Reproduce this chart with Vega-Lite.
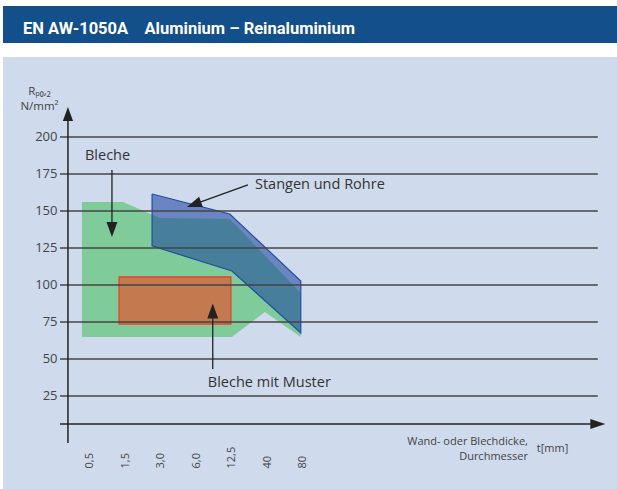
{
  "$schema": "https://vega.github.io/schema/vega-lite/v6.json",
  "background": "white",
  "padding": {"left": 3, "top": 6, "right": 0, "bottom": 0},
  "spacing": 14,
  "config": {"view": {"stroke": null}, "font": "Open Sans"},
  "datasets": {
    "one": [{}],
    "green": [
      {"ord": 0, "x": -0.225, "y": 156.1},
      {"ord": 1, "x": 0.93, "y": 156.1},
      {"ord": 2, "x": 1.97, "y": 145.3},
      {"ord": 3, "x": 3.94, "y": 144.6},
      {"ord": 4, "x": 5.94, "y": 94.6},
      {"ord": 5, "x": 5.94, "y": 64.9},
      {"ord": 6, "x": 4.93, "y": 81.8},
      {"ord": 7, "x": 4.0, "y": 64.9},
      {"ord": 8, "x": -0.225, "y": 64.9}
    ],
    "blue": [
      {"ord": 0, "x": 1.75, "y": 161.5},
      {"ord": 1, "x": 3.94, "y": 148.0},
      {"ord": 2, "x": 5.94, "y": 102.7},
      {"ord": 3, "x": 5.94, "y": 67.6},
      {"ord": 4, "x": 4.0, "y": 109.5},
      {"ord": 5, "x": 1.75, "y": 126.4},
      {"ord": 6, "x": 1.75, "y": 161.5}
    ],
    "muster": [{"x": 0.82, "x2": 3.97, "y": 105.4, "y2": 73.6}],
    "grid": [{"y": 25}, {"y": 50}, {"y": 75}, {"y": 100}, {"y": 125}, {"y": 150}, {"y": 175}, {"y": 200}],
    "arrows": [
      {"x": 0.62, "y": 177.7, "x2": 0.62, "y2": 142.5},
      {"x": 3.46, "y": 43.2, "x2": 3.46, "y2": 78.5},
      {"x": 4.45, "y": 167.6, "x2": 2.93, "y2": 154.4}
    ],
    "labels": [
      {"x": -0.14, "y": 187.2, "text": "Bleche"},
      {"x": 4.65, "y": 167.6, "text": "Stangen und Rohre"},
      {"x": 3.32, "y": 33.8, "text": "Bleche mit Muster"}
    ],
    "xtitle": [
      {"x": 12.34, "y": -6.1, "text": "Wand- oder Blechdicke,"},
      {"x": 12.34, "y": -16.2, "text": "Durchmesser"}
    ],
    "tunit": [{"x": 12.59, "y": -10.8, "text": "t[mm]"}]
  },
  "vconcat": [
    {
      "width": 614,
      "height": 37,
      "view": {"fill": "#134f8a", "stroke": null},
      "data": {"name": "one"},
      "mark": {"type": "text", "text": ""},
      "title": {
        "text": "EN AW-1050A\u00a0\u00a0\u00a0\u00a0Aluminium – Reinaluminium",
        "anchor": "start",
        "orient": "top",
        "frame": "group",
        "offset": -44,
        "dx": 20,
        "baseline": "alphabetic",
        "color": "white",
        "font": "Roboto",
        "fontWeight": "bold",
        "fontSize": 16.5
      }
    },
    {
      "width": 614,
      "height": 432,
      "view": {"fill": "#cfdaec", "stroke": null},
      "layer": [
        {
          "data": {"name": "green"},
          "mark": {"type": "line", "filled": true, "color": "#7fcb99", "strokeWidth": 0},
          "encoding": {
            "x": {
              "field": "x", "type": "quantitative",
              "scale": {"domain": [-2.45, 14.85], "nice": false, "zero": false},
              "axis": {
                "values": [0, 1, 2, 3, 4, 5, 6],
                "labelExpr": "['0,5','1,5','3,0','6,0','12,5','40','80'][datum.value]",
                "offset": -21,
                "domain": false,
                "ticks": false,
                "tickSize": 0,
                "grid": false,
                "labelAngle": 270,
                "labelAlign": "left",
                "labelBaseline": "middle",
                "labelPadding": 0,
                "labelFont": "Open Sans",
                "labelFontSize": 11,
                "labelColor": "#444",
                "labelFlush": false,
                "labelOverlap": false,
                "title": null,
                "zindex": 1
              }
            },
            "y": {
              "field": "y", "type": "quantitative",
              "scale": {"domain": [-37.84, 254.05], "nice": false, "zero": false},
              "axis": {
                "values": [25, 50, 75, 100, 125, 150, 175, 200],
                "offset": -65,
                "domain": false,
                "grid": false,
                "ticks": false,
                "labelPadding": 11,
                "labelFont": "Open Sans",
                "labelFontSize": 13,
                "labelColor": "#444",
                "title": ["Rₚ₀,₂", "N/mm²"],
                "titleAngle": 0,
                "titleAlign": "center",
                "titleBaseline": "alphabetic",
                "titleX": -29,
                "titleY": 37,
                "titleFont": "Open Sans",
                "titleFontSize": 11.5,
                "titleFontWeight": "normal",
                "titleColor": "#444",
                "titleLineHeight": 15,
                "zindex": 1
              }
            },
            "order": {"field": "ord", "type": "quantitative"}
          }
        },
        {
          "data": {"name": "muster"},
          "mark": {"type": "rect", "color": "#c47a4e", "stroke": "#e8402a", "strokeWidth": 1.3},
          "encoding": {
            "x": {"field": "x", "type": "quantitative"},
            "x2": {"field": "x2"},
            "y": {"field": "y", "type": "quantitative"},
            "y2": {"field": "y2"}
          }
        },
        {
          "data": {"name": "blue"},
          "mark": {"type": "line", "filled": true, "color": "#1a429e", "fillOpacity": 0.56, "stroke": "#1f4f9f", "strokeWidth": 1.2, "strokeOpacity": 1},
          "encoding": {
            "x": {"field": "x", "type": "quantitative"},
            "y": {"field": "y", "type": "quantitative"},
            "order": {"field": "ord", "type": "quantitative"}
          }
        },
        {
          "data": {"name": "grid"},
          "mark": {"type": "rule", "color": "#444", "strokeWidth": 1.3},
          "encoding": {
            "y": {"field": "y", "type": "quantitative"},
            "x": {"datum": -0.845},
            "x2": {"datum": 14.31}
          }
        },
        {
          "data": {"name": "one"},
          "mark": {"type": "rule", "color": "#222", "strokeWidth": 1.5},
          "encoding": {
            "x": {"datum": -0.62},
            "y": {"datum": -6.76},
            "y2": {"datum": 212.8}
          }
        },
        {
          "data": {"name": "one"},
          "mark": {"type": "rule", "color": "#222", "strokeWidth": 1.5},
          "encoding": {
            "y": {"datum": 6.08},
            "x": {"datum": -0.845},
            "x2": {"datum": 14.23}
          }
        },
        {
          "data": {"name": "one"},
          "mark": {"type": "point", "filled": true, "color": "#222", "opacity": 1, "size": 196, "shape": "M0,-1L0.73,1L-0.73,1Z", "strokeWidth": 0},
          "encoding": {
            "x": {"datum": -0.62},
            "y": {"datum": 215.5}
          }
        },
        {
          "data": {"name": "one"},
          "mark": {"type": "point", "filled": true, "color": "#222", "opacity": 1, "size": 225, "shape": "M1,0L-1,-0.67L-1,0.67Z", "strokeWidth": 0},
          "encoding": {
            "x": {"datum": 14.31},
            "y": {"datum": 6.08}
          }
        },
        {
          "data": {"name": "arrows"},
          "mark": {"type": "rule", "color": "#222", "strokeWidth": 1.3},
          "encoding": {
            "x": {"field": "x", "type": "quantitative"},
            "y": {"field": "y", "type": "quantitative"},
            "x2": {"field": "x2"},
            "y2": {"field": "y2"}
          }
        },
        {
          "data": {"name": "one"},
          "mark": {"type": "point", "filled": true, "color": "#222", "opacity": 1, "size": 225, "shape": "M0,1L0.73,-1L-0.73,-1Z", "strokeWidth": 0},
          "encoding": {
            "x": {"datum": 0.62},
            "y": {"datum": 137.5}
          }
        },
        {
          "data": {"name": "one"},
          "mark": {"type": "point", "filled": true, "color": "#222", "opacity": 1, "size": 225, "shape": "M0,-1L0.73,1L-0.73,1Z", "strokeWidth": 0},
          "encoding": {
            "x": {"datum": 3.46},
            "y": {"datum": 82.4}
          }
        },
        {
          "data": {"name": "one"},
          "mark": {"type": "point", "filled": true, "color": "#222", "opacity": 1, "size": 225, "shape": "M0,-1L0.73,1L-0.73,1Z", "angle": 250, "strokeWidth": 0},
          "encoding": {
            "x": {"datum": 2.93},
            "y": {"datum": 154.4}
          }
        },
        {
          "data": {"name": "labels"},
          "mark": {"type": "text", "align": "left", "baseline": "middle", "font": "Open Sans", "fontSize": 14.5, "color": "#333"},
          "encoding": {
            "x": {"field": "x", "type": "quantitative"},
            "y": {"field": "y", "type": "quantitative"},
            "text": {"field": "text"}
          }
        },
        {
          "data": {"name": "xtitle"},
          "mark": {"type": "text", "align": "right", "baseline": "middle", "font": "Open Sans", "fontSize": 11, "color": "#444"},
          "encoding": {
            "x": {"field": "x", "type": "quantitative"},
            "y": {"field": "y", "type": "quantitative"},
            "text": {"field": "text"}
          }
        },
        {
          "data": {"name": "tunit"},
          "mark": {"type": "text", "align": "left", "baseline": "middle", "font": "Open Sans", "fontSize": 11, "color": "#444"},
          "encoding": {
            "x": {"field": "x", "type": "quantitative"},
            "y": {"field": "y", "type": "quantitative"},
            "text": {"field": "text"}
          }
        }
      ]
    }
  ]
}
